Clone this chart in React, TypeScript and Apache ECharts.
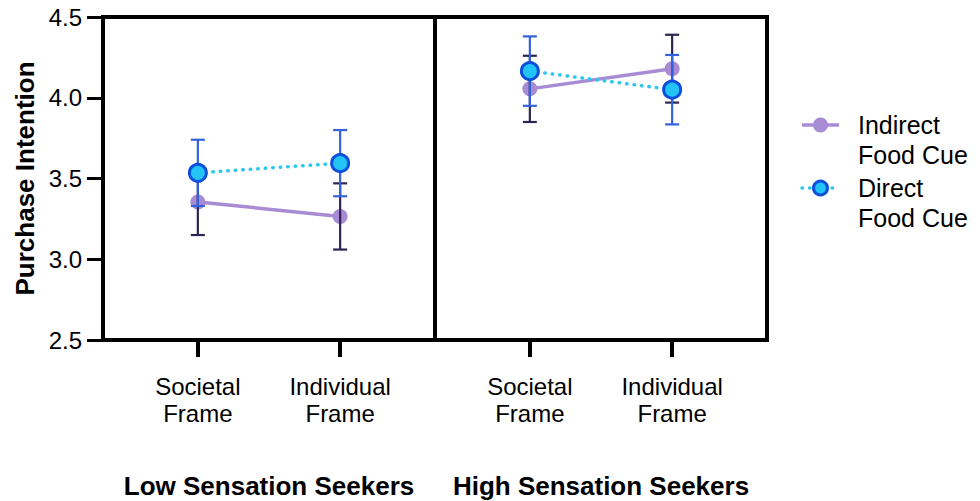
import React, { useEffect, useRef } from "react";
import * as echarts from "echarts";

// ---- data ----
const frames = ["Societal\nFrame", "Individual\nFrame"];
const groups = ["Low Sensation Seekers", "High Sensation Seekers"];
const seriesNames = ["Indirect\nFood Cue", "Direct\nFood Cue"];
// order: [Societal, Individual] for each group
const indirectLow = [3.355, 3.265];
const indirectHigh = [4.055, 4.18];
const indirectSELow = [0.205, 0.205];
const indirectSEHigh = [0.205, 0.21];
const directLow = [3.535, 3.595];
const directHigh = [4.165, 4.05];
const directSELow = [0.205, 0.205];
const directSEHigh = [0.215, 0.215];
const yMin = 2.5;
const yMax = 4.5;
const yStep = 0.5;

// ---- style ----
const FONT = '"Liberation Sans", Arial, Helvetica, sans-serif';
const PURPLE = "#a78bd5";
const PURPLE_BAR = "#2c2552";
const CYAN = "#2cc6ee";
const CYAN_FILL = "#22c4f6";
const BLUE = "#0b4fdc";
const BLUE_BAR = "#3462db";

// category slots: frame labels sit on slot 2 and 5 of 8
const SLOTS = 8;
const FRAME_SLOT = [2, 5];

function slotsFor(): string[] {
  const arr: string[] = [];
  for (let i = 0; i < SLOTS; i++) arr.push("");
  FRAME_SLOT.forEach((s, k) => (arr[s] = frames[k]));
  return arr;
}

const showSlot = (i: number) => FRAME_SLOT.indexOf(i) >= 0;

function errorBarSeries(gridIdx: number, means: number[], ses: number[], color: string, z: number) {
  return {
    type: "custom",
    xAxisIndex: gridIdx,
    yAxisIndex: gridIdx,
    z,
    silent: true,
    encode: { x: 0, y: 1 },
    data: means.map((m, k) => [FRAME_SLOT[k], m, ses[k]]),
    renderItem: (params: any, api: any) => {
      const x = api.value(0);
      const m = api.value(1);
      const e = api.value(2);
      const top = api.coord([x, m + e]);
      const bot = api.coord([x, m - e]);
      const hw = 7;
      const style = { stroke: color, lineWidth: 2.2, fill: null };
      return {
        type: "group",
        children: [
          { type: "line", shape: { x1: top[0], y1: top[1], x2: bot[0], y2: bot[1] }, style },
          { type: "line", shape: { x1: top[0] - hw, y1: top[1], x2: top[0] + hw, y2: top[1] }, style },
          { type: "line", shape: { x1: bot[0] - hw, y1: bot[1], x2: bot[0] + hw, y2: bot[1] }, style },
        ],
      };
    },
  };
}

function lineSeries(gridIdx: number, name: string, means: number[], direct: boolean, z: number) {
  return {
    type: "line",
    name,
    xAxisIndex: gridIdx,
    yAxisIndex: gridIdx,
    z,
    data: means.map((m, k) => [FRAME_SLOT[k], m]),
    symbol: "circle",
    symbolSize: direct ? 17 : 15,
    lineStyle: direct
      ? { color: CYAN, width: 3.5, type: [0.5, 7], cap: "round" }
      : { color: PURPLE, width: 3.5 },
    itemStyle: direct
      ? { color: CYAN_FILL, borderColor: BLUE, borderWidth: 3 }
      : { color: PURPLE, borderWidth: 0 },
  };
}

export default function App() {
  const ref = useRef<HTMLDivElement>(null);

  useEffect(() => {
    if (!ref.current) return;
    const chart = echarts.init(ref.current, null, { renderer: "svg" });
    const slotData = slotsFor();

    const xAxisBase = (gridIndex: number) => ({
      type: "category",
      gridIndex,
      data: slotData,
      boundaryGap: false,
      axisLine: { show: true, lineStyle: { color: "#000", width: 4 } },
      axisTick: { show: true, length: 17, interval: (i: number) => showSlot(i), lineStyle: { color: "#000", width: 4 } },
      axisLabel: {
        interval: (i: number) => showSlot(i),
        fontSize: 24,
        lineHeight: 27,
        color: "#000",
        fontFamily: FONT,
        margin: 33,
      },
      splitLine: { show: false },
      name: groups[gridIndex],
      nameLocation: "middle",
      nameGap: 133,
      nameTextStyle: { fontSize: 26, fontWeight: "bold", color: "#000", fontFamily: FONT },
    });

    const gridBase = {
      width: 332,
      top: 17,
      height: 323,
      show: true,
      borderColor: "#000",
      borderWidth: 4,
      backgroundColor: "transparent",
      containLabel: false,
      outerBoundsMode: "none",
    };

    const option: any = {
      animation: false,
      backgroundColor: "#fff",
      textStyle: { fontFamily: FONT },
      grid: [
        { ...gridBase, left: 103 },
        { ...gridBase, left: 435 },
      ],
      xAxis: [xAxisBase(0), xAxisBase(1)],
      yAxis: [
        {
          type: "value",
          gridIndex: 0,
          min: yMin,
          max: yMax,
          interval: yStep,
          axisLine: { show: true, lineStyle: { color: "#000", width: 4 } },
          axisTick: { show: true, length: 16, lineStyle: { color: "#000", width: 3 } },
          axisLabel: {
            fontSize: 24,
            color: "#000",
            fontFamily: FONT,
            margin: 21,
            formatter: (v: number) => v.toFixed(1),
          },
          splitLine: { show: false },
          name: "Purchase Intention",
          nameLocation: "middle",
          nameGap: 65,
          nameTextStyle: { fontSize: 26, fontWeight: "bold", color: "#000", fontFamily: FONT },
        },
        {
          type: "value",
          gridIndex: 1,
          min: yMin,
          max: yMax,
          interval: yStep,
          show: false,
          splitLine: { show: false },
        },
      ],
      series: [
        lineSeries(0, seriesNames[0], indirectLow, false, 2),
        errorBarSeries(0, indirectLow, indirectSELow, PURPLE_BAR, 3),
        errorBarSeries(0, directLow, directSELow, BLUE_BAR, 4),
        lineSeries(0, seriesNames[1], directLow, true, 5),
        lineSeries(1, seriesNames[0], indirectHigh, false, 2),
        errorBarSeries(1, indirectHigh, indirectSEHigh, PURPLE_BAR, 3),
        errorBarSeries(1, directHigh, directSEHigh, BLUE_BAR, 4),
        lineSeries(1, seriesNames[1], directHigh, true, 5),
      ],
      graphic: [
        // legend: Indirect
        { type: "line", shape: { x1: 802, y1: 125, x2: 839, y2: 125 }, style: { stroke: PURPLE, lineWidth: 3.5 } },
        { type: "circle", shape: { cx: 820.5, cy: 125, r: 7.5 }, style: { fill: PURPLE } },
        {
          type: "text",
          x: 858,
          y: 110,
          style: { text: seriesNames[0], font: `25px ${FONT}`, fill: "#000", lineHeight: 30, verticalAlign: "top" },
        },
        // legend: Direct
        {
          type: "line",
          shape: { x1: 802, y1: 188, x2: 839, y2: 188 },
          style: { stroke: CYAN, lineWidth: 3.5, lineDash: [0.5, 7], lineCap: "round" },
        },
        { type: "circle", shape: { cx: 820.5, cy: 188, r: 7 }, style: { fill: CYAN_FILL, stroke: BLUE, lineWidth: 3 } },
        {
          type: "text",
          x: 858,
          y: 173,
          style: { text: seriesNames[1], font: `25px ${FONT}`, fill: "#000", lineHeight: 30, verticalAlign: "top" },
        },
      ],
    };

    chart.setOption(option);
    return () => chart.dispose();
  }, []);

  return (
    <div
      ref={ref}
      style={{ position: "fixed", left: 0, top: 0, width: 980, height: 501, background: "#fff" }}
    />
  );
}
